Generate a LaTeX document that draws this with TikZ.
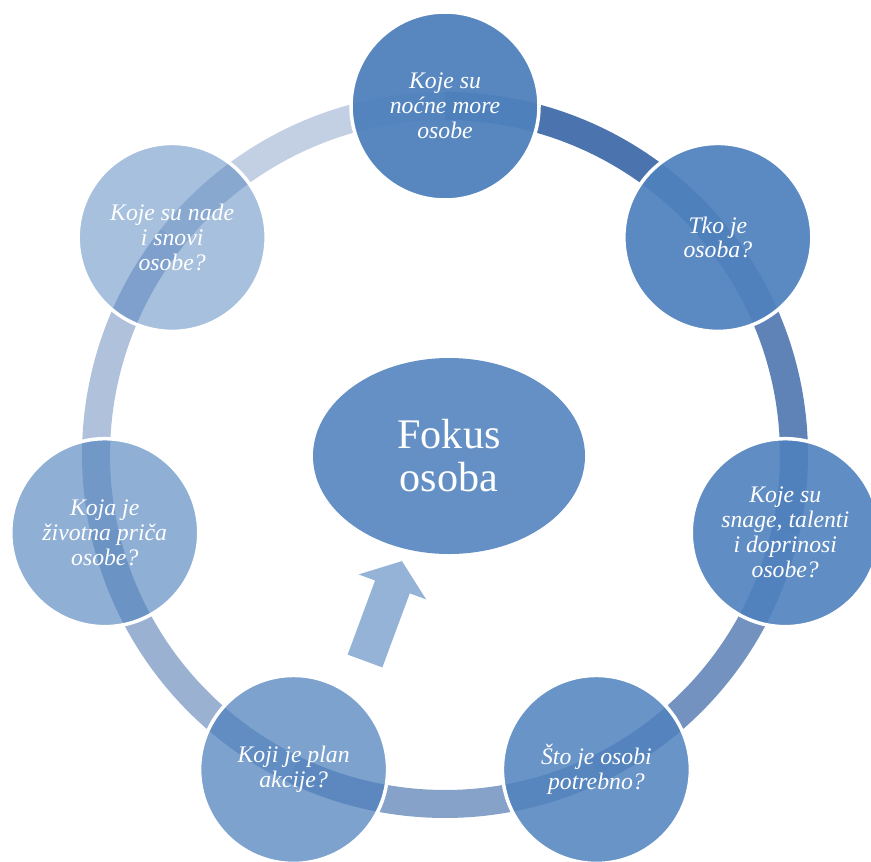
\documentclass[tikz,border=0pt]{standalone}
\usepackage{fontspec}
\setmainfont{Liberation Serif}
\usetikzlibrary{calc, positioning, shapes.geometric}
\definecolor{ringblue}{RGB}{79,129,189}
\definecolor{bandblue}{RGB}{55,100,165}
\tikzset{
    topic/.style={circle, minimum size=3.76cm, inner sep=0pt, text centered, align=center, fill=ringblue, draw=white, line width=2pt, text=white, text opacity=1, font=\itshape\fontsize{13.5}{14.2}\selectfont},
    focus/.style={ellipse, minimum width=5.44cm, minimum height=3.92cm, inner sep=0pt, text centered, align=center, fill=ringblue!88!white, text=white, font=\fontsize{24}{24.5}\selectfont},
    band/.style={line width=0.56cm, draw=bandblue, line cap=butt},
    pointer/.style={fill=ringblue!60!white},
}

\begin{document}
\begin{tikzpicture}
    \useasboundingbox (0,0) rectangle (17.42,17.22);
    \coordinate (centre) at (8.90,8.12);
    %%%%%%%%
    % RING %
    %%%%%%%%
    \draw[band, draw opacity=0.9] ($(centre)+(90:6.98)$) arc[start angle=90, end angle=38.57, radius=6.98];
    \draw[band, draw opacity=0.8] ($(centre)+(38.57:6.98)$) arc[start angle=38.57, end angle=-12.86, radius=6.98];
    \draw[band, draw opacity=0.7] ($(centre)+(-12.86:6.98)$) arc[start angle=-12.86, end angle=-64.29, radius=6.98];
    \draw[band, draw opacity=0.6] ($(centre)+(-64.29:6.98)$) arc[start angle=-64.29, end angle=-115.71, radius=6.98];
    \draw[band, draw opacity=0.5] ($(centre)+(-115.71:6.98)$) arc[start angle=-115.71, end angle=-167.14, radius=6.98];
    \draw[band, draw opacity=0.4] ($(centre)+(-167.14:6.98)$) arc[start angle=-167.14, end angle=-218.57, radius=6.98];
    \draw[band, draw opacity=0.3] ($(centre)+(-218.57:6.98)$) arc[start angle=-218.57, end angle=-270, radius=6.98];
    %%%%%%%%%%%
    % TOPICS  %
    %%%%%%%%%%%
    \node (nightmares) [topic, fill opacity=0.95] at ($(centre)+(90:6.98)$)
        {Koje su\\noćne more\\osobe};
    \node (who) [topic, fill opacity=0.93] at ($(centre)+(38.57:6.98)$)
        {Tko je\\osoba?};
    \node (strengths) [topic, fill opacity=0.9] at ($(centre)+(-12.86:6.98)$)
        {Koje su\\snage, talenti\\i doprinosi\\osobe?};
    \node (needs) [topic, fill opacity=0.85] at ($(centre)+(-64.29:6.98)$)
        {Što je osobi\\potrebno?};
    \node (plan) [topic, fill opacity=0.74] at ($(centre)+(-115.71:6.98)$)
        {Koji je plan\\akcije?};
    \node (story) [topic, fill opacity=0.63] at ($(centre)+(-167.14:6.98)$)
        {Koja je\\životna priča\\osobe?};
    \node (dreams) [topic, fill opacity=0.5] at ($(centre)+(141.43:6.98)$)
        {Koje su nade\\i snovi\\osobe?};
    %%%%%%%%%
    % FOCUS %
    %%%%%%%%%
    \node (person) [focus] at (8.98,8.10)
        {Fokus\\osoba};
    \begin{scope}[shift={(7.30,4.00)}, rotate=69.7]
        \fill[pointer] (0,-0.37) -- (1.58,-0.37) -- (1.58,-0.72) -- (2.13,0)
            -- (1.58,0.72) -- (1.58,0.37) -- (0,0.37) -- cycle;
    \end{scope}
\end{tikzpicture}
\end{document}
